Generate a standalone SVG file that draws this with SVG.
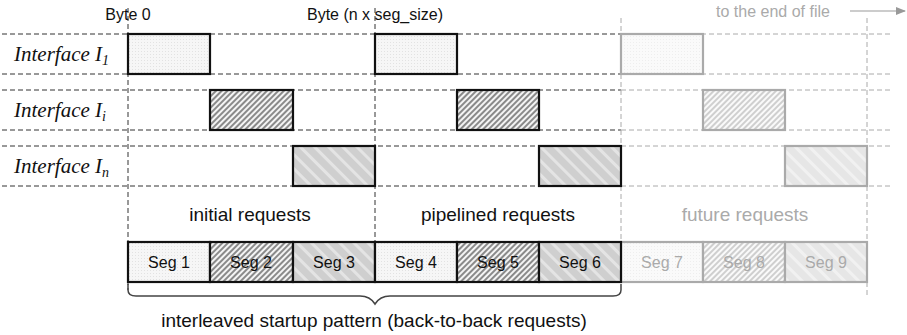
<svg xmlns="http://www.w3.org/2000/svg" width="907" height="335" viewBox="0 0 907 335">
<style>
.hd{stroke:#333;stroke-width:1;stroke-dasharray:5,3;fill:none}
.hg{stroke:#aaa;stroke-width:1;stroke-dasharray:5,3;fill:none}
.bk{stroke:#111;stroke-width:2.2}
.gy{stroke:#aaa;stroke-width:2.2}
.lab{font-family:"Liberation Serif",serif;font-style:italic;font-size:21px;fill:#111}
.sub{font-size:14px}
.t{font-family:"Liberation Sans",Arial,sans-serif;fill:#111}
.tg{font-family:"Liberation Sans",Arial,sans-serif;fill:#aaa}
</style>
<defs>
<pattern id="p1" width="3" height="3" patternUnits="userSpaceOnUse"><rect width="3" height="3" fill="#f6f6f6"/><rect width="1" height="1" fill="#e2e2e2"/></pattern>
<pattern id="p2" width="4" height="4" patternUnits="userSpaceOnUse" patternTransform="rotate(-45)"><rect width="4" height="4" fill="#f4f4f4"/><rect width="4" height="2" fill="#8a8a8a"/></pattern>
<pattern id="p3" width="10" height="10" patternUnits="userSpaceOnUse" patternTransform="rotate(45)"><rect width="10" height="10" fill="#cfcfcf"/><rect width="10" height="3" fill="#e4e4e4"/></pattern>
<pattern id="p1g" width="3" height="3" patternUnits="userSpaceOnUse"><rect width="3" height="3" fill="#fafafa"/><rect width="1" height="1" fill="#eeeeee"/></pattern>
<pattern id="p2g" width="4" height="4" patternUnits="userSpaceOnUse" patternTransform="rotate(-45)"><rect width="4" height="4" fill="#fafafa"/><rect width="4" height="2" fill="#cfcfcf"/></pattern>
<pattern id="p3g" width="10" height="10" patternUnits="userSpaceOnUse" patternTransform="rotate(45)"><rect width="10" height="10" fill="#e6e6e6"/><rect width="10" height="3" fill="#f1f1f1"/></pattern>
<marker id="ar" markerWidth="10" markerHeight="8" refX="9" refY="4" orient="auto" markerUnits="userSpaceOnUse"><path d="M0,0 L10,4 L0,8 z" fill="#999"/></marker>
</defs>

<g id="gridlines">
<path class="hd" d="M2,34H621M2,74H621M2,90H621M2,130H621M2,146H621M2,186H621"/>
<path class="hg" d="M621,34H893M621,74H893M621,90H893M621,130H893M621,146H893M621,186H893"/>
<path class="hd" d="M128,8V290M375,8V242"/>
<path class="hg" d="M621,18V242M867,18V298"/>
</g>

<g id="header">
<text class="t" x="128" y="20" font-size="16" text-anchor="middle">Byte 0</text>
<text class="t" x="375" y="20" font-size="16" text-anchor="middle">Byte (n x seg_size)</text>
<text class="tg" x="773" y="17" font-size="16" text-anchor="middle">to the end of file</text>
<line x1="850" y1="11" x2="905" y2="11" stroke="#999" stroke-width="1.2" marker-end="url(#ar)"/>
</g>

<g id="labels">
<text class="lab" x="14" y="61">Interface I<tspan class="sub" dy="4">1</tspan></text>
<text class="lab" x="14" y="117">Interface I<tspan class="sub" dy="4">i</tspan></text>
<text class="lab" x="14" y="173">Interface I<tspan class="sub" dy="4">n</tspan></text>
</g>

<g id="row1">
<rect class="bk" x="128" y="34" width="82" height="40" fill="url(#p1)"/>
<rect class="bk" x="375" y="34" width="82" height="40" fill="url(#p1)"/>
<rect class="gy" x="621" y="34" width="82" height="40" fill="url(#p1g)"/>
</g>
<g id="row2">
<rect class="bk" x="210" y="90" width="83" height="40" fill="url(#p2)"/>
<rect class="bk" x="457" y="90" width="82" height="40" fill="url(#p2)"/>
<rect class="gy" x="703" y="90" width="82" height="40" fill="url(#p2g)"/>
</g>
<g id="row3">
<rect class="bk" x="293" y="146" width="82" height="40" fill="url(#p3)"/>
<rect class="bk" x="539" y="146" width="82" height="40" fill="url(#p3)"/>
<rect class="gy" x="785" y="146" width="82" height="40" fill="url(#p3g)"/>
</g>

<g id="phases">
<text class="t" x="250" y="221" font-size="19" text-anchor="middle">initial requests</text>
<text class="t" x="498" y="221" font-size="19" text-anchor="middle">pipelined requests</text>
<text class="tg" x="745" y="221" font-size="19" text-anchor="middle">future requests</text>
</g>

<g id="segbar">
<rect class="gy" x="621" y="242" width="82" height="40" fill="url(#p1g)"/>
<rect class="gy" x="703" y="242" width="82" height="40" fill="url(#p2g)"/>
<rect class="gy" x="785" y="242" width="82" height="40" fill="url(#p3g)"/>
<rect class="bk" x="128" y="242" width="82" height="40" fill="url(#p1)"/>
<rect class="bk" x="210" y="242" width="83" height="40" fill="url(#p2)"/>
<rect class="bk" x="293" y="242" width="82" height="40" fill="url(#p3)"/>
<rect class="bk" x="375" y="242" width="82" height="40" fill="url(#p1)"/>
<rect class="bk" x="457" y="242" width="82" height="40" fill="url(#p2)"/>
<rect class="bk" x="539" y="242" width="82" height="40" fill="url(#p3)"/>
<g class="t" font-size="16" text-anchor="middle">
<text x="169" y="268">Seg 1</text>
<text x="251" y="268">Seg 2</text>
<text x="334" y="268">Seg 3</text>
<text x="416" y="268">Seg 4</text>
<text x="498" y="268">Seg 5</text>
<text x="580" y="268">Seg 6</text>
</g>
<g class="tg" font-size="16" text-anchor="middle">
<text x="662" y="268">Seg 7</text>
<text x="744" y="268">Seg 8</text>
<text x="826" y="268">Seg 9</text>
</g>
</g>

<g id="brace">
<path d="M128,284 V290 Q128,296 136,296 H360 Q370,296 375,304 Q380,296 390,296 H613 Q621,296 621,290 V284" fill="none" stroke="#444" stroke-width="1.5"/>
<text class="t" x="374" y="327" font-size="19" text-anchor="middle">interleaved startup pattern (back-to-back requests)</text>
</g>
</svg>
